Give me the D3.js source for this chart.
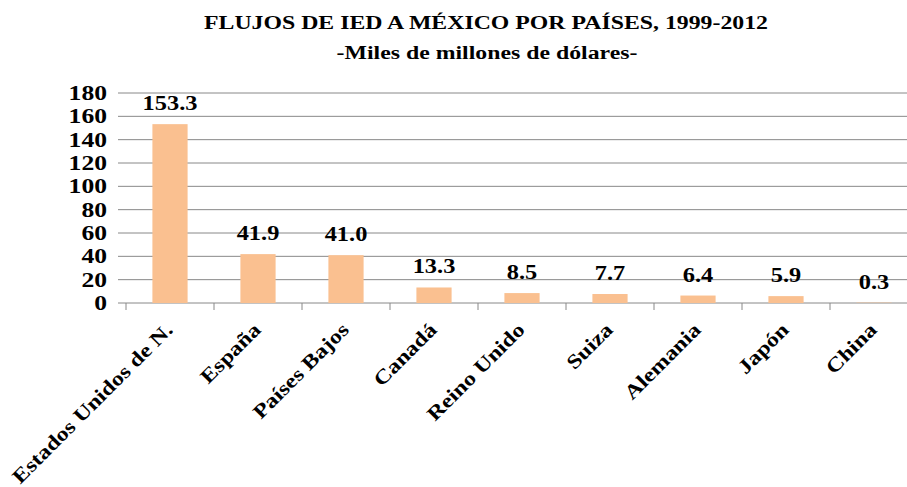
<!DOCTYPE html>
<html>
<head>
<meta charset="utf-8">
<script src="https://cdn.jsdelivr.net/npm/d3@7"></script>
<style>
  body { margin: 0; background: #fff; }
  svg text { font-family: "Liberation Serif", "Times New Roman", serif !important; font-weight: bold; fill: #000; }
</style>
</head>
<body>
<script>
const countries = ["Estados Unidos de N.", "España", "Países Bajos", "Canadá", "Reino Unido",
  "Suiza", "Alemania", "Japón", "China"]
const flows = [153.3, 41.9, 41.0, 13.3, 8.5, 7.7, 6.4, 5.9, 0.3]
const yTicks = [0, 20, 40, 60, 80, 100, 120, 140, 160, 180]

const width = 907, height = 487
const margin = { top: 93, right: -11, bottom: 184, left: 126 }
const chartWidth = width - margin.left - margin.right,
      chartHeight = height - margin.top - margin.bottom
// the original picture is stretched sideways, so the text is too
const sx = 1.22

const svg = d3.select('body').append('svg')
    .attr('width', width)
    .attr('height', height)

// title
svg.append('text')
    .attr('transform', `translate(486,29) scale(${sx},1)`)
    .attr('text-anchor', 'middle')
    .style('font-size', '19.5px')
    .text('FLUJOS DE IED A MÉXICO POR PAÍSES, 1999-2012')
svg.append('text')
    .attr('transform', `translate(487,59) scale(${sx},1)`)
    .attr('text-anchor', 'middle')
    .style('font-size', '19.5px')
    .text('-Miles de millones de dólares-')

const chart = svg.append('g')
    .attr('transform', `translate(${margin.left},${margin.top})`)

const x = d3.scaleBand()
    .domain(countries)
    .range([0, chartWidth])
    .paddingInner(0.6)
    .paddingOuter(0.3)

const y = d3.scaleLinear()
    .domain([0, 180])
    .range([chartHeight, 0])

// gridlines
chart.append('g')
    .selectAll('line')
    .data(yTicks).enter()
    .append('line')
    .attr('x1', -8).attr('x2', chartWidth)
    .attr('y1', d => y(d)).attr('y2', d => y(d))
    .attr('stroke', '#888')
    .attr('stroke-width', 1)

// y axis labels
chart.append('g')
    .selectAll('text')
    .data(yTicks).enter()
    .append('text')
    .attr('text-anchor', 'end')
    .attr('transform', d => `translate(-19,${y(d) + 7}) scale(${sx},1)`)
    .style('font-size', '21px')
    .text(d => d)

// x axis ticks between categories
const bounds = d3.range(countries.length + 1).map(i => i * x.step())
chart.append('g')
    .selectAll('line')
    .data(bounds).enter()
    .append('line')
    .attr('x1', d => d).attr('x2', d => d)
    .attr('y1', chartHeight).attr('y2', chartHeight + 7)
    .attr('stroke', '#888')

// bars
chart.selectAll('.bar')
    .data(flows).enter()
    .append('rect')
    .attr('class', 'bar')
    .attr('x', (d, i) => x(countries[i]))
    .attr('width', x.bandwidth())
    .attr('y', d => y(d))
    .attr('height', d => chartHeight - y(d))
    .attr('fill', '#FAC090')

// value labels
chart.selectAll('.val')
    .data(flows).enter()
    .append('text')
    .attr('class', 'val')
    .attr('text-anchor', 'middle')
    .attr('transform', (d, i) => `translate(${x(countries[i]) + x.bandwidth() / 2},${y(d) - 14}) scale(${sx},1)`)
    .style('font-size', '20px')
    .text(d => d.toFixed(1))

// category labels
chart.selectAll('.cat')
    .data(countries).enter()
    .append('text')
    .attr('class', 'cat')
    .attr('text-anchor', 'end')
    .attr('transform', d => `translate(${x(d) + x.bandwidth() / 2 + 4},${chartHeight + 28}) rotate(-45) scale(1.2,1)`)
    .style('font-size', '20px')
    .text(d => d)
</script>
</body>
</html>
